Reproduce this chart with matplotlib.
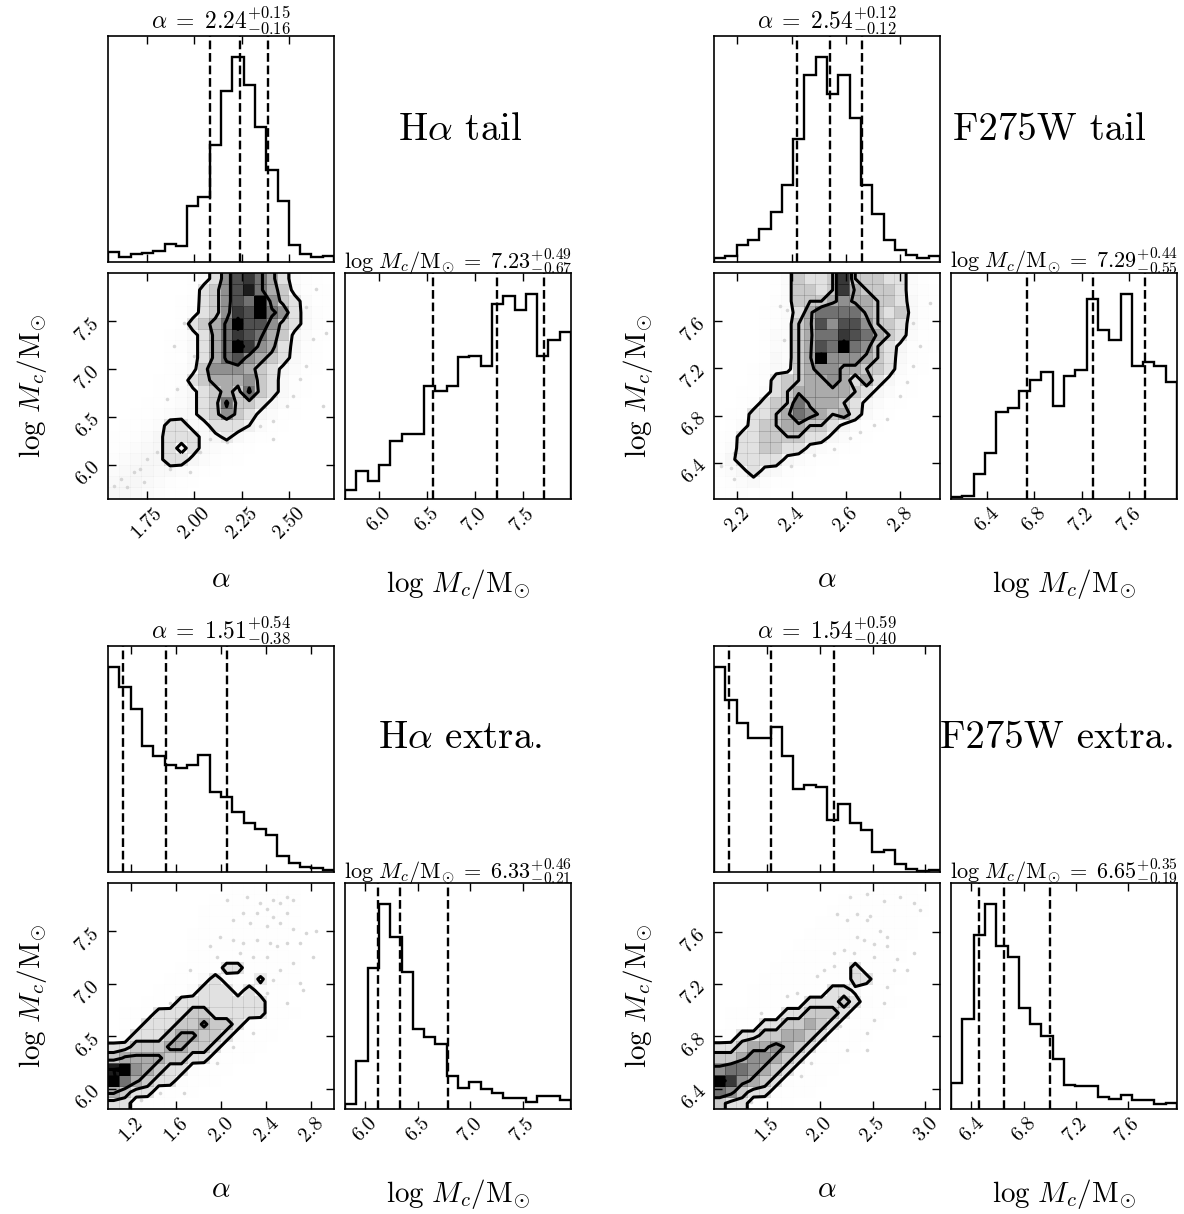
import numpy as np
import matplotlib
matplotlib.use("Agg")
import matplotlib.pyplot as plt
from matplotlib.colors import LinearSegmentedColormap
from matplotlib.ticker import FixedLocator, FormatStrFormatter, NullLocator

plt.rcParams.update({
    "font.family": "serif",
    "font.serif": ["cmr10", "DejaVu Serif"],
    "mathtext.fontset": "cm",
    "axes.formatter.use_mathtext": True,
    "axes.linewidth": 1.2,
})

# Joint-density grids are 20x20 bin values written in base 36 (0-9, a-z = 0..35);
# rows run from the highest log M bin down, columns from the lowest alpha bin up.
# Contour levels are given in the same units.

# ---------------- H-alpha tail ----------------
ha_tail_alpha_range = [1.545, 2.736]
ha_tail_logm_range = [5.65, 8.0]
ha_tail_alpha_hist = [28, 16, 23, 26, 33, 51, 46, 163, 190, 340, 498, 598, 515, 393, 268, 178, 50, 23, 16, 18]
ha_tail_logm_hist = [28, 85, 53, 102, 175, 196, 196, 338, 325, 338, 426, 430, 400, 586, 608, 568, 616, 430, 478, 500]
ha_tail_alpha_q = [2.24, 0.16, 0.15]   # median, lower error, upper error
ha_tail_logm_q = [7.23, 0.67, 0.49]
ha_tail_density = [
    "000000024cntvqkc4320",
    "00000002cgntxqkg5321",
    "00000013cgntqzngc421",
    "00000024cgnvtzqnc531",
    "0000002cgkqzttngc532",
    "00000135ckqvtqkg6421",
    "00000135ckqzvnkc6320",
    "00000125ckqtnkgc5310",
    "00000135gnnnkgc64210",
    "0000123cgkkkngc53200",
    "00001246cgkgqgc53100",
    "00012346cgqggc642000",
    "00123456cgngc6421000",
    "01234cc55ccc84210000",
    "12346ccc56a532100000",
    "23456c5c543210000000",
    "34566cc6432100000000",
    "45665543210000000000",
    "56654321000000000000",
    "66543210000000000000",
]
ha_tail_levels = [8, 18, 25, 33]
ha_tail_pts_alpha = [1.576, 1.611, 1.646, 1.681, 1.716, 1.751, 1.804, 1.734, 1.856, 1.874, 1.926, 1.979,
                     2.031, 2.084, 2.171, 2.241, 2.346, 2.416, 2.486, 2.521, 2.556, 2.591, 2.626, 2.556,
                     2.591, 2.643, 2.696, 2.031, 1.996, 1.909, 1.856, 1.891, 1.944, 2.678, 2.416]
ha_tail_pts_logm = [5.79, 5.86, 5.77, 5.93, 5.96, 6.07, 6.14, 5.83, 6.27, 5.96, 6.07, 5.93,
                    6.14, 6.27, 6.24, 6.38, 6.41, 6.46, 6.62, 6.72, 6.90, 7.03, 7.31, 7.48,
                    7.65, 7.83, 7.38, 7.72, 7.14, 6.79, 6.69, 7.24, 7.48, 6.62, 6.27]
ha_tail_alpha_ticks = [1.75, 2.00, 2.25, 2.50]
ha_tail_logm_ticks = [6.0, 6.5, 7.0, 7.5]

# ---------------- F275W tail ----------------
uv_tail_alpha_range = [2.114, 2.947]
uv_tail_logm_range = [6.10, 8.0]
uv_tail_alpha_hist = [12, 18, 50, 65, 95, 145, 225, 360, 545, 600, 490, 545, 420, 225, 140, 65, 35, 20, 12, 18]
uv_tail_logm_hist = [5, 8, 68, 128, 242, 252, 300, 330, 352, 258, 340, 358, 556, 470, 442, 570, 368, 380, 368, 325]
uv_tail_alpha_q = [2.54, 0.12, 0.12]
uv_tail_logm_q = [7.29, 0.55, 0.44]
uv_tail_density = [
    "0000024gccgvgggcc420",
    "0000024ggcgvkgggc431",
    "0000034gggknkkggc531",
    "0000134ckqqqqkgcg531",
    "0000134gktnttnggc532",
    "0000144gkqqvtqkgc421",
    "0000244gktqzqngc6321",
    "0000254gkznnnkgc5310",
    "0001355gknnkkggc4210",
    "00013cggkknkckc63200",
    "00124cgkkkkkgc642100",
    "0013cggqkkkgc6421000",
    "012ccgkqnkgkc5310000",
    "024cggkkggc642100000",
    "13ccggggcc6421000000",
    "24ccggcc643210000000",
    "36cccc64321000000000",
    "346c6532100000000000",
    "23453210000000000000",
    "12321000000000000000",
]
uv_tail_levels = [8, 16, 21, 33]
uv_tail_pts_alpha = [2.175, 2.188, 2.237, 2.261, 2.273, 2.298, 2.322, 2.347, 2.371, 2.359, 2.384, 2.420,
                     2.445, 2.482, 2.494, 2.555, 2.616, 2.653, 2.702, 2.751, 2.800, 2.824, 2.849, 2.873,
                     2.849, 2.910, 2.824, 2.776, 2.188, 2.139, 2.249, 2.310, 2.396]
uv_tail_pts_logm = [6.36, 6.27, 6.72, 6.77, 6.61, 6.94, 7.00, 7.16, 7.44, 7.72, 7.69, 7.86,
                    6.55, 6.47, 6.61, 6.52, 6.61, 6.66, 6.72, 6.77, 6.97, 7.08, 7.22, 7.39,
                    7.58, 7.75, 7.72, 7.92, 6.49, 6.38, 6.33, 6.44, 6.38]
uv_tail_alpha_ticks = [2.2, 2.4, 2.6, 2.8]
uv_tail_logm_ticks = [6.4, 6.8, 7.2, 7.6]

# ---------------- H-alpha extraplanar ----------------
ha_extra_alpha_range = [0.995, 3.0]
ha_extra_logm_range = [5.81, 7.96]
ha_extra_alpha_hist = [618, 555, 491, 378, 348, 323, 313, 323, 351, 240, 225, 180, 148, 130, 111, 48, 28, 15, 13, 5]
ha_extra_logm_hist = [16, 143, 423, 618, 518, 413, 241, 218, 195, 100, 63, 81, 60, 48, 33, 33, 21, 38, 38, 28]
ha_extra_alpha_q = [1.51, 0.38, 0.54]
ha_extra_logm_q = [6.33, 0.21, 0.46]
ha_extra_density = [
    "00000000001121211000",
    "00000000012122121000",
    "00000000121221211000",
    "00000000122121211000",
    "00000001212221211000",
    "00000001222222110000",
    "00000001222221211000",
    "0000001122cc21211000",
    "000001124c432a211000",
    "00001124ccc4c4210000",
    "000112cccccccc210000",
    "0112cccggccccc211000",
    "012cccggkggc32110000",
    "02cccgkkggc321100000",
    "ccgggkkggc3211000000",
    "gkkkkggcc32110000000",
    "xznkgcc3211000000000",
    "zqkgcc32110000000000",
    "kgcc3211000000000000",
    "cc321100000000000000",
]
ha_extra_levels = [8, 14, 19, 33]
ha_extra_pts_alpha = [2.049, 2.226, 2.343, 2.461, 2.520, 2.579, 2.638, 2.402, 2.461, 2.579, 2.314, 2.196,
                      2.108, 2.255, 2.402, 2.520, 2.638, 2.756, 2.844, 1.990, 2.108, 2.196, 2.314, 2.432,
                      2.491, 2.579, 2.697, 2.814, 1.902, 1.961, 2.167, 2.284, 2.402, 2.520, 2.638, 2.697,
                      2.726, 2.461, 2.402, 2.314, 2.579, 1.784, 1.725, 1.519, 1.548, 1.372, 2.108, 1.961,
                      1.666, 1.460, 1.284, 2.049, 2.284]
ha_extra_pts_logm = [7.80, 7.83, 7.77, 7.80, 7.77, 7.83, 7.80, 7.71, 7.64, 7.67, 7.67, 7.67,
                     7.61, 7.58, 7.55, 7.58, 7.52, 7.48, 7.50, 7.45, 7.42, 7.39, 7.42, 7.39,
                     7.36, 7.39, 7.39, 7.26, 7.36, 7.26, 7.29, 7.26, 7.26, 7.13, 7.20, 7.01,
                     6.94, 7.04, 6.91, 6.85, 6.82, 6.91, 7.13, 6.75, 6.82, 6.69, 6.40, 6.25,
                     5.96, 5.96, 5.90, 6.53, 6.53]
ha_extra_alpha_ticks = [1.2, 1.6, 2.0, 2.4, 2.8]
ha_extra_logm_ticks = [6.0, 6.5, 7.0, 7.5]

# ---------------- F275W extraplanar ----------------
uv_extra_alpha_range = [0.995, 3.14]
uv_extra_logm_range = [6.245, 7.975]
uv_extra_alpha_hist = [608, 508, 440, 396, 396, 428, 343, 245, 258, 251, 153, 201, 145, 123, 58, 65, 23, 10, 3, 5]
uv_extra_logm_hist = [78, 270, 523, 618, 490, 456, 303, 255, 220, 150, 73, 70, 70, 36, 30, 43, 28, 28, 15, 18]
uv_extra_alpha_q = [1.54, 0.40, 0.59]
uv_extra_logm_q = [6.65, 0.19, 0.35]
uv_extra_density = [
    "00000000000011221100",
    "00000000000122221110",
    "00000000001222221110",
    "00000000012222221100",
    "00000000122222211100",
    "00000001222222211000",
    "00000012222222111000",
    "000001122222c2110000",
    "000011222222cc211000",
    "0001122222cc62110000",
    "00011222cccgc3211000",
    "011222ccgggc32110000",
    "0122ccggkgc321100000",
    "12ccggkkgc3211000000",
    "ccgkknkgc32110000000",
    "ggknnkgc321100000000",
    "nqqnkgc3211000000000",
    "zvnkgc32110000000000",
    "qngcc321100000000000",
    "gcc32110000000000000",
]
uv_extra_levels = [8, 14, 21, 33]
uv_extra_pts_alpha = [2.289, 2.447, 2.605, 2.763, 2.889, 2.952, 2.163, 2.258, 2.352, 2.479, 2.447, 2.574,
                      2.637, 2.352, 2.416, 2.510, 2.637, 2.731, 2.826, 2.889, 2.132, 2.226, 2.321, 2.510,
                      2.700, 2.637, 2.605, 2.510, 2.447, 1.974, 2.037, 2.132, 1.690, 1.784, 1.437, 1.405,
                      2.195, 2.447, 2.258, 1.911, 1.816, 1.342, 1.500]
uv_extra_pts_logm = [7.87, 7.89, 7.84, 7.87, 7.82, 7.77, 7.74, 7.69, 7.74, 7.72, 7.69, 7.61,
                     7.56, 7.56, 7.54, 7.51, 7.49, 7.39, 7.31, 7.44, 7.44, 7.46, 7.44, 7.41,
                     7.31, 7.18, 7.06, 6.93, 6.83, 7.26, 7.31, 7.34, 7.11, 7.13, 6.98, 6.80,
                     6.88, 6.70, 6.70, 6.60, 6.50, 6.30, 6.37]
uv_extra_alpha_ticks = [1.5, 2.0, 2.5, 3.0]
uv_extra_logm_ticks = [6.4, 6.8, 7.2, 7.6]

panel_names = [r"H$\alpha$ tail", "F275W tail", r"H$\alpha$ extra.", "F275W extra."]

# ---------------- layout (pixels) ----------------
W, H = 1184, 1214
S, G = 226, 11
origins = [(108, 36), (714, 36), (108, 646), (714, 646)]
name_pos = [(460, 130), (1049, 130), (460, 738), (1057, 738)]

ALPHA_SYM = r"\alpha"
LOGM_SYM = r"\log\,M_c/\mathrm{M}_{\odot}"

density_cmap = LinearSegmentedColormap.from_list("density_cmap", [(0, 0, 0, 1), (1, 1, 1, 0)])
white_cmap = LinearSegmentedColormap.from_list("white_cmap", [(1, 1, 1), (1, 1, 1)], N=2)

TICK_FS = 14.5
LABEL_FS = 21
ALPHA_TITLE_FS = 17
LOGM_TITLE_FS = 16
NAME_FS = 28
LW = 1.7


def rect(x0, y0):
    return [x0 / W, 1 - (y0 + S) / H, S / W, S / H]


def style(ax):
    ax.tick_params(direction="in", top=True, right=True, length=6, width=1.0,
                   labelsize=TICK_FS)


def title_text(sym, q):
    return r"$%s\;=\;%.2f^{+%.2f}_{-%.2f}$" % (sym, q[0], q[2], q[1])


def padded(Z, xe, ye):
    """Grid extended by two bins on each side so contours close at the frame."""
    ny, nx = Z.shape
    Z2 = Z.min() + np.zeros((ny + 4, nx + 4))
    Z2[2:-2, 2:-2] = Z
    Z2[2:-2, 1] = Z[:, 0]
    Z2[2:-2, -2] = Z[:, -1]
    Z2[1, 2:-2] = Z[0]
    Z2[-2, 2:-2] = Z[-1]
    Z2[1, 1] = Z[0, 0]
    Z2[1, -2] = Z[0, -1]
    Z2[-2, 1] = Z[-1, 0]
    Z2[-2, -2] = Z[-1, -1]
    x1 = 0.5 * (xe[1:] + xe[:-1])
    y1 = 0.5 * (ye[1:] + ye[:-1])
    dx, dy = x1[1] - x1[0], y1[1] - y1[0]
    X2 = np.concatenate([x1[0] + np.array([-2, -1]) * dx, x1, x1[-1] + np.array([1, 2]) * dx])
    Y2 = np.concatenate([y1[0] + np.array([-2, -1]) * dy, y1, y1[-1] + np.array([1, 2]) * dy])
    return X2, Y2, Z2


def hist1d(ax, rng, counts, q, ticks, fmt):
    edges = np.linspace(rng[0], rng[1], len(counts) + 1)
    centers = 0.5 * (edges[1:] + edges[:-1])
    ax.hist(centers, bins=edges, weights=counts, histtype="step", color="k", lw=LW)
    for v in (q[0] - q[1], q[0], q[0] + q[2]):
        ax.axvline(v, ls="dashed", color="k", lw=LW)
    ax.set_xlim(rng)
    ax.set_ylim(0, 1.1 * max(counts))
    ax.xaxis.set_major_locator(FixedLocator(ticks))
    ax.xaxis.set_major_formatter(FormatStrFormatter(fmt))
    ax.yaxis.set_major_locator(NullLocator())
    style(ax)


def draw_corner(fig, origin, name, npos, arange, mrange, ahist, mhist, aq, mq, dens, levels,
                pa, pm, aticks, afmt, mticks, mfmt):
    x0, y0 = origin
    ax_a = fig.add_axes(rect(x0, y0))
    ax_2d = fig.add_axes(rect(x0, y0 + S + G))
    ax_m = fig.add_axes(rect(x0 + S + G, y0 + S + G))

    # marginal of alpha
    hist1d(ax_a, arange, ahist, aq, aticks, afmt)
    ax_a.set_xticklabels([])
    ax_a.set_title(title_text(ALPHA_SYM, aq), fontsize=ALPHA_TITLE_FS, pad=3)

    # marginal of log M
    hist1d(ax_m, mrange, mhist, mq, mticks, mfmt)
    for lab in ax_m.get_xticklabels():
        lab.set_rotation(45)
    ax_m.set_title(title_text(LOGM_SYM, mq), fontsize=LOGM_TITLE_FS, pad=3)
    ax_m.set_xlabel("$%s$" % LOGM_SYM, fontsize=LABEL_FS)
    ax_m.xaxis.set_label_coords(0.5, -0.30)

    # joint distribution
    Z = np.array([[int(c, 36) for c in row] for row in dens[::-1]], dtype=float)
    xe = np.linspace(arange[0], arange[1], Z.shape[1] + 1)
    ye = np.linspace(mrange[0], mrange[1], Z.shape[0] + 1)
    X2, Y2, Z2 = padded(Z, xe, ye)
    ax_2d.plot(pa, pm, "o", color="k", ms=2.6, alpha=0.16, mec="none", zorder=-1)
    ax_2d.contourf(X2, Y2, Z2, [min(levels), Z.max()], cmap=white_cmap, antialiased=False)
    ax_2d.pcolor(xe, ye, Z.max() - Z, cmap=density_cmap, shading="flat")
    ax_2d.contour(X2, Y2, Z2, levels, colors="k", linewidths=2.2)
    ax_2d.set_xlim(arange)
    ax_2d.set_ylim(mrange)
    ax_2d.xaxis.set_major_locator(FixedLocator(aticks))
    ax_2d.xaxis.set_major_formatter(FormatStrFormatter(afmt))
    ax_2d.yaxis.set_major_locator(FixedLocator(mticks))
    ax_2d.yaxis.set_major_formatter(FormatStrFormatter(mfmt))
    style(ax_2d)
    for lab in ax_2d.get_xticklabels() + ax_2d.get_yticklabels():
        lab.set_rotation(45)
    ax_2d.set_xlabel("$%s$" % ALPHA_SYM, fontsize=LABEL_FS)
    ax_2d.xaxis.set_label_coords(0.5, -0.30)
    ax_2d.set_ylabel("$%s$" % LOGM_SYM, fontsize=LABEL_FS)
    ax_2d.yaxis.set_label_coords(-0.26, 0.5)

    fig.text(npos[0] / W, 1 - npos[1] / H, name, fontsize=NAME_FS, ha="center", va="center")


fig = plt.figure(figsize=(W / 100, H / 100), dpi=100)

draw_corner(fig, origins[0], panel_names[0], name_pos[0],
            ha_tail_alpha_range, ha_tail_logm_range, ha_tail_alpha_hist, ha_tail_logm_hist,
            ha_tail_alpha_q, ha_tail_logm_q, ha_tail_density, ha_tail_levels,
            ha_tail_pts_alpha, ha_tail_pts_logm,
            ha_tail_alpha_ticks, "%.2f", ha_tail_logm_ticks, "%.1f")
draw_corner(fig, origins[1], panel_names[1], name_pos[1],
            uv_tail_alpha_range, uv_tail_logm_range, uv_tail_alpha_hist, uv_tail_logm_hist,
            uv_tail_alpha_q, uv_tail_logm_q, uv_tail_density, uv_tail_levels,
            uv_tail_pts_alpha, uv_tail_pts_logm,
            uv_tail_alpha_ticks, "%.1f", uv_tail_logm_ticks, "%.1f")
draw_corner(fig, origins[2], panel_names[2], name_pos[2],
            ha_extra_alpha_range, ha_extra_logm_range, ha_extra_alpha_hist, ha_extra_logm_hist,
            ha_extra_alpha_q, ha_extra_logm_q, ha_extra_density, ha_extra_levels,
            ha_extra_pts_alpha, ha_extra_pts_logm,
            ha_extra_alpha_ticks, "%.1f", ha_extra_logm_ticks, "%.1f")
draw_corner(fig, origins[3], panel_names[3], name_pos[3],
            uv_extra_alpha_range, uv_extra_logm_range, uv_extra_alpha_hist, uv_extra_logm_hist,
            uv_extra_alpha_q, uv_extra_logm_q, uv_extra_density, uv_extra_levels,
            uv_extra_pts_alpha, uv_extra_pts_logm,
            uv_extra_alpha_ticks, "%.1f", uv_extra_logm_ticks, "%.1f")

fig.savefig("out.png", dpi=100)
